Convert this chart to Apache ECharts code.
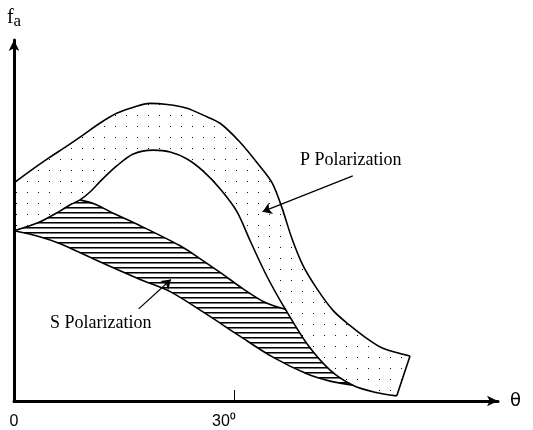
<!DOCTYPE html>
<html>
<head>
<meta charset="utf-8">
<script src="https://cdn.jsdelivr.net/npm/echarts@6/dist/echarts.min.js"></script>
<style>
  html, body { margin: 0; padding: 0; background: #fff; }
  #chart { width: 533px; height: 430px; }
</style>
</head>
<body>
<div id="chart"></div>
<script>
// x = incidence angle (deg), y = f_a (arbitrary units)

// P polarization band, outer and inner edges
const pOuter = [[0, 5.92], [2.6, 6.30], [4.9, 6.62], [7.2, 6.92], [9.4, 7.22], [11.7, 7.54], [14.0, 7.81],
  [16.2, 7.97], [18.5, 8.08], [20.9, 8.05], [23.6, 7.95], [25.8, 7.76], [28.1, 7.54], [30.8, 7.03],
  [33.5, 6.38], [35.2, 5.92], [36.5, 5.27], [37.9, 4.41], [39.4, 3.68], [41.3, 3.05], [43.5, 2.46],
  [45.8, 2.05], [48.1, 1.70], [50.3, 1.43], [54.0, 1.22]];
const pInner = [[0, 4.62], [3.5, 4.86], [6.3, 5.16], [7.6, 5.32], [9.0, 5.46], [10.4, 5.68], [11.7, 5.95],
  [14.0, 6.38], [16.2, 6.70], [19.0, 6.81], [21.3, 6.76], [23.6, 6.57], [25.8, 6.24], [28.1, 5.76],
  [30.4, 5.14], [32.2, 4.35], [34.5, 3.38], [37.0, 2.49], [40.0, 1.54], [43.1, 0.84], [46.2, 0.43],
  [49.2, 0.24], [52.2, 0.14]];

// S polarization band: top edge (leaves and rejoins pInner) and bottom edge
const sTop = [[9.0, 5.46], [11.0, 5.35], [13.1, 5.14], [17.2, 4.76], [22.6, 4.22], [25.4, 3.86],
  [28.1, 3.49], [31.2, 3.05], [34.2, 2.68], [37.0, 2.49]];
const sBottom = [[0, 4.62], [3.5, 4.46], [6.3, 4.27], [11.7, 3.78], [17.2, 3.30], [21.3, 2.97],
  [26.3, 2.35], [30.8, 1.76], [35.3, 1.19], [40.0, 0.73], [43.1, 0.54], [46.2, 0.43]];

const tickValues = [30];
const labelValues = [0, 30];

// annotation arrows [from, to]
const pArrow = [[46.2, 6.11], [33.9, 5.14]];
const sArrow = [[17.0, 2.50], [21.4, 3.30]];

function makePattern(w, h, draw) {
  const c = document.createElement('canvas');
  c.width = w; c.height = h;
  const g = c.getContext('2d');
  g.fillStyle = '#fff';
  g.fillRect(0, 0, w, h);
  draw(g);
  return { image: c, repeat: 'repeat' };
}
const dots = makePattern(11, 11, g => { g.fillStyle = '#111'; g.fillRect(5, 5, 1, 1); });
const hatch = makePattern(8, 5, g => {
  g.fillStyle = '#000'; g.fillRect(0, 2, 8, 1);
  g.fillStyle = '#777'; g.fillRect(0, 3, 8, 1);
});

// closed outlines for the fills
const xA = sTop[0][0], xB = sTop[sTop.length - 1][0], xC = sBottom[sBottom.length - 1][0];
const sRegion = sBottom.concat(
  pInner.filter(p => p[0] > xB && p[0] < xC).reverse(),
  sTop.slice().reverse(),
  pInner.filter(p => p[0] > 0 && p[0] < xA).reverse()
);
const pRegion = pOuter.concat(pInner.slice().reverse());

const chart = echarts.init(document.getElementById('chart'));

const curve = (data) => ({
  type: 'line',
  data: data,
  smooth: 0.3,
  showSymbol: false,
  silent: true,
  lineStyle: { color: '#000', width: 1.6 },
  z: 4
});

chart.setOption({
  animation: false,
  grid: { left: 14, top: 40, width: 484, height: 363 },
  xAxis: {
    type: 'value',
    min: 0,
    max: 66,
    z: 6,
    name: 'θ',
    nameLocation: 'end',
    nameGap: 12,
    nameTextStyle: { color: '#000', fontSize: 18, fontFamily: 'DejaVu Sans' },
    axisLine: {
      onZero: false,
      symbol: ['none', 'arrow'],
      symbolSize: [8, 11],
      lineStyle: { color: '#000', width: 3 }
    },
    axisTick: {
      customValues: tickValues,
      inside: true,
      length: 11,
      lineStyle: { color: '#000', width: 1 }
    },
    axisLabel: {
      customValues: labelValues,
      margin: 13,
      color: '#000',
      fontSize: 16,
      fontFamily: 'Liberation Sans',
      formatter: v => v === 0 ? '0' : '{n|' + v + '⁰}{p|}',
      rich: {
        n: { fontSize: 16, fontFamily: 'Liberation Sans', color: '#000' },
        p: { width: 20 }
      }
    },
    splitLine: { show: false }
  },
  yAxis: {
    type: 'value',
    min: 0,
    max: 9.8,
    z: 6,
    name: '{f|f}{a|a}',
    nameLocation: 'end',
    nameGap: 10,
    nameTextStyle: {
      align: 'center',
      rich: {
        f: { fontSize: 20, fontFamily: 'Liberation Serif', color: '#000' },
        a: { fontSize: 17, fontFamily: 'Liberation Serif', color: '#000', padding: [8, 0, 0, 0] }
      }
    },
    axisLine: {
      symbol: ['none', 'arrow'],
      symbolSize: [8, 11],
      lineStyle: { color: '#000', width: 3 }
    },
    axisTick: { show: false },
    axisLabel: { show: false },
    splitLine: { show: false }
  },
  graphic: [
    { type: 'text', left: 300, top: 151, style: { text: 'P Polarization', fill: '#000', font: '18px "Liberation Serif"' } },
    { type: 'text', left: 50, top: 314, style: { text: 'S Polarization', fill: '#000', font: '18px "Liberation Serif"' } }
  ],
  series: [
    {
      type: 'custom',
      silent: true,
      z: 2,
      data: [[0, 0]],
      renderItem: (params, api) => ({
        type: 'group',
        children: [
          { type: 'polygon', shape: { points: sRegion.map(p => api.coord(p)) }, style: { fill: hatch } },
          { type: 'polygon', shape: { points: pRegion.map(p => api.coord(p)) }, style: { fill: dots } }
        ]
      })
    },
    curve(pOuter),
    curve(pInner),
    curve(sTop),
    curve(sBottom),
    curve([pOuter[pOuter.length - 1], pInner[pInner.length - 1]]),
    {
      type: 'lines',
      coordinateSystem: 'cartesian2d',
      silent: true,
      z: 5,
      symbol: ['none', 'arrow'],
      symbolSize: 9,
      lineStyle: { color: '#000', width: 1.2, opacity: 1 },
      data: [{ coords: pArrow }, { coords: sArrow }]
    }
  ]
});
</script>
</body>
</html>
